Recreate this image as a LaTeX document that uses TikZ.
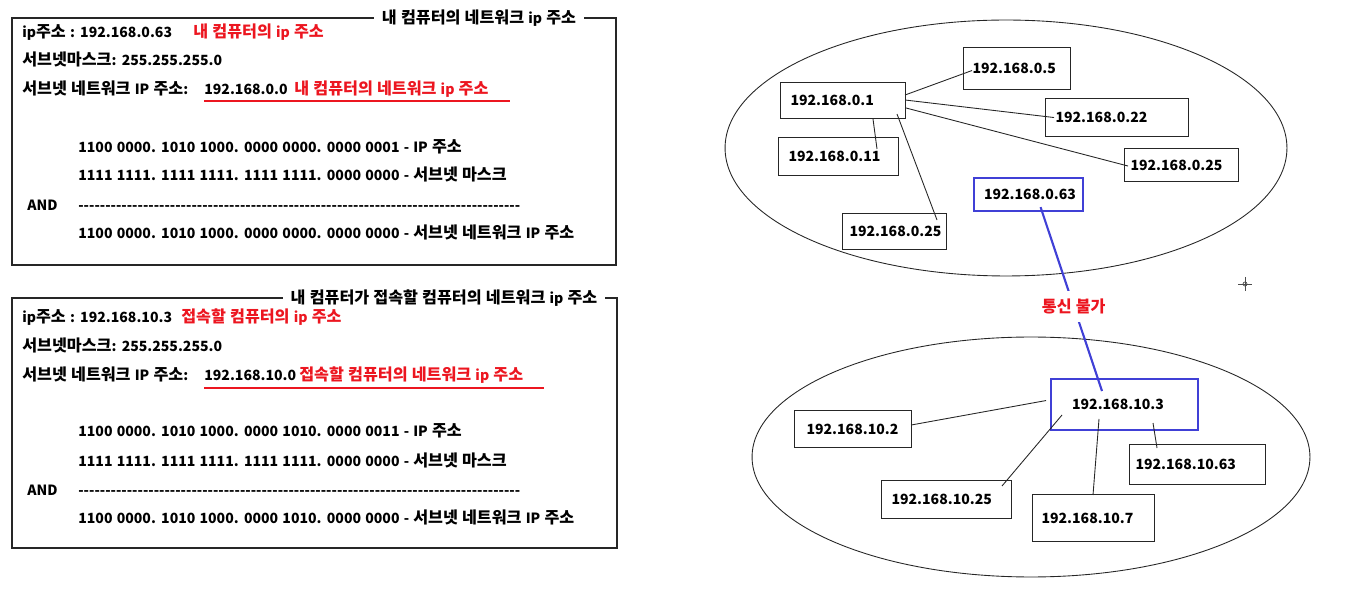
\documentclass[tikz,border=0pt]{standalone}
\usepackage{fontspec}
\setmainfont{Noto Sans CJK KR}[WordSpace=1.3]
\usetikzlibrary{calc}
\definecolor{hostblue}{RGB}{64,64,214}
\definecolor{notered}{RGB}{236,22,32}
\newcommand{\pxu}{0.02cm}
% Hangul set a little larger than the digits
\newcommand{\hangulsize}{\fontsize{9.2}{10}\selectfont}
\XeTeXinterchartokenstate=1
\newXeTeXintercharclass\hangulclass
\newcount\hcode
\hcode="AC00
\loop
  \XeTeXcharclass\hcode=\hangulclass
  \ifnum\hcode<"D7A3 \advance\hcode by 1
\repeat
\XeTeXinterchartoks 0 \hangulclass = {\begingroup\hangulsize}
\XeTeXinterchartoks 4095 \hangulclass = {\begingroup\hangulsize}
\XeTeXinterchartoks \hangulclass 0 = {\endgroup}
\XeTeXinterchartoks \hangulclass 4095 = {\endgroup}

\begin{document}
\begin{tikzpicture}[
    x=0.02cm, y=-0.02cm,
    every node/.style={font=\fontsize{8}{10}\selectfont\bfseries},
    line/.style={anchor=base west, inner sep=0pt},
    note/.style={line, text=notered},
    frame/.style={draw=black!85, line width=0.6pt},
    frame title/.style={fill=white, inner xsep=8*\pxu, inner ysep=1pt},
    underline/.style={draw=notered, line width=1.1pt},
    host/.style n args={3}{
      draw=black!85, line width=0.6pt, anchor=north west, fill=white,
      minimum width=#1*\pxu, minimum height=#2*\pxu,
      inner xsep=#3*\pxu, inner ysep=0pt,
      text width=(#1-2*#3)*\pxu, align=left
    },
    chosen/.style={draw=hostblue, line width=1.2pt},
    link/.style={draw=black!85, line width=0.5pt},
    blocked/.style={draw=hostblue, line width=1.2pt}
  ]
  \useasboundingbox (0,0) rectangle (1358,597);

  % my computer
  \draw[frame] (12,18) rectangle (616,265);
  \node[frame title] (title1) at (479,18) {내 컴퓨터의 네트워크 ip 주소};
  \node[line] (ip1) at (22,38) {ip주소 : 192.168.0.63};
  \node[note] (ipnote1) at (193,38) {내 컴퓨터의 ip 주소};
  \node[line] (mask1) at (22,66) {서브넷마스크: 255.255.255.0};
  \node[line] (net1) at (22,95) {서브넷 네트워크 IP 주소:};
  \node[line] (netip1) at (204,95) {192.168.0.0};
  \node[note] (netnote1) at (294,95) {내 컴퓨터의 네트워크 ip 주소};
  \draw[underline] (204,101) -- (510,101);
  \node[line] (bin1a) at (78,153) {1100 0000. 1010 1000. 0000 0000. 0000 0001 - IP 주소};
  \node[line] (bin1b) at (78,181) {1111 1111. 1111 1111. 1111 1111. 0000 0000 - 서브넷 마스크};
  \node[line] (and1) at (27,211) {AND};
  \node[line] (rule1) at (78,211) {\hbox to 8.84cm{\xleaders\hbox{-}\hfill}};
  \node[line] (bin1c) at (78,239) {1100 0000. 1010 1000. 0000 0000. 0000 0000 - 서브넷 네트워크 IP 주소};

  % other computer
  \draw[frame] (12,298) rectangle (617,548);
  \node[frame title] (title2) at (444,298) {내 컴퓨터가 접속할 컴퓨터의 네트워크 ip 주소};
  \node[line] (ip2) at (22,323) {ip주소 : 192.168.10.3};
  \node[note] (ipnote2) at (181,323) {접속할 컴퓨터의 ip 주소};
  \node[line] (mask2) at (22,352) {서브넷마스크: 255.255.255.0};
  \node[line] (net2) at (22,381) {서브넷 네트워크 IP 주소:};
  \node[line] (netip2) at (204,381) {192.168.10.0};
  \node[note] (netnote2) at (299,381) {접속할 컴퓨터의 네트워크 ip 주소};
  \draw[underline] (204,388) -- (544,388);
  \node[line] (bin2a) at (78,437) {1100 0000. 1010 1000. 0000 1010. 0000 0011 - IP 주소};
  \node[line] (bin2b) at (78,466) {1111 1111. 1111 1111. 1111 1111. 0000 0000 - 서브넷 마스크};
  \node[line] (and2) at (27,495) {AND};
  \node[line] (rule2) at (78,495) {\hbox to 8.84cm{\xleaders\hbox{-}\hfill}};
  \node[line] (bin2c) at (78,523) {1100 0000. 1010 1000. 0000 1010. 0000 0000 - 서브넷 네트워크 IP 주소};

  % networks
  \draw[frame, line width=0.5pt] (1006,148) ellipse [x radius=5.62cm, y radius=2.56cm];
  \draw[frame, line width=0.5pt] (1031,457) ellipse [x radius=5.58cm, y radius=2.4cm];

  \node[host={125}{36}{10}] (h1) at (780,82) {192.168.0.1};
  \node[host={107}{42}{9}] (h5) at (963,47) {192.168.0.5};
  \node[host={143}{38}{10}] (h22) at (1045,98) {192.168.0.22};
  \node[host={114}{33}{6}] (h25a) at (1124,148) {192.168.0.25};
  \node[host={120}{38}{10}] (h11) at (778,137) {192.168.0.11};
  \node[host={104}{36}{7}] (h25b) at (842,213) {192.168.0.25};
  \node[host={109}{33}{10}, chosen] (h63) at (973,177) {192.168.0.63};

  \draw[link] ($(h1.north east)+(-1,13)$) -- ($(h5.west)+(9,2)$);
  \draw[link] ($(h1.north east)+(-1,18)$) -- ($(h22.west)+(9,0)$);
  \draw[link] ($(h1.north east)+(0,26)$) -- ($(h25a.west)+(4,1)$);
  \draw[link] ($(h1.south west)+(93,0)$) -- ($(h11.north west)+(99,12)$);
  \draw[link] ($(h1.south west)+(117,-5)$) -- ($(h25b.north west)+(95,7)$);

  \node[host={117}{37}{12}] (h102) at (794,410) {192.168.10.2};
  \node[host={147}{51}{21}, chosen] (h103) at (1050,378) {192.168.10.3};
  \node[host={130}{38}{10}] (h1025) at (881,480) {192.168.10.25};
  \node[host={122}{47}{9}] (h107) at (1032,494) {192.168.10.7};
  \node[host={136}{40}{6}] (h1063) at (1129,444) {192.168.10.63};

  \draw[link] ($(h102.east)+(-1,-4)$) -- ($(h103.west)+(-4,-4)$);
  \draw[link] ($(h103.north west)+(12,37)$) -- ($(h1025.north west)+(121,6)$);
  \draw[link] ($(h103.north west)+(49,41)$) -- ($(h107.north west)+(61,1)$);
  \draw[link] ($(h103.north west)+(103,45)$) -- ($(h1063.north west)+(28,4)$);

  \draw[blocked] ($(h63.south)+(12,-5)$) -- node[pos=0.54, fill=white, text=notered,
    inner xsep=2pt, inner ysep=8*\pxu] (nolink) {통신 불가} ($(h103.north west)+(52,13)$);

  % cursor
  \draw[black!70, line width=0.5pt] (1238,284) -- (1252,284) (1245,277) -- (1245,291);
  \draw[black!70, line width=0.4pt] (1245,284) circle [radius=0.04cm];
\end{tikzpicture}
\end{document}
